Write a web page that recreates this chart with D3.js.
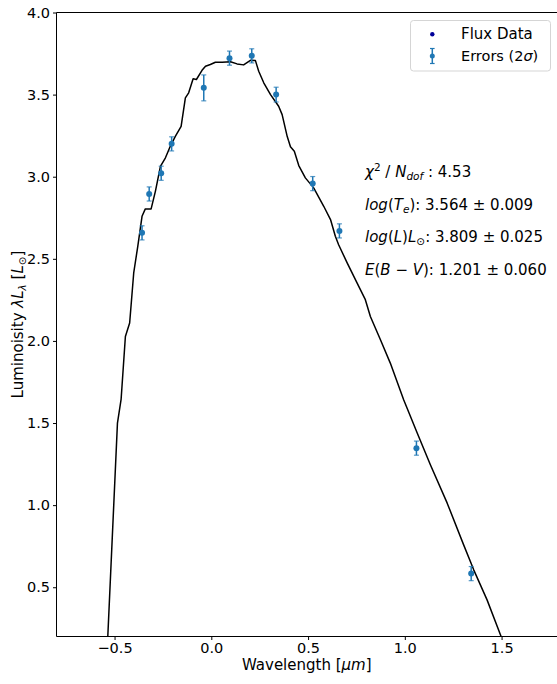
<!DOCTYPE html>
<html>
<head>
<meta charset="utf-8">
<script src="https://cdn.jsdelivr.net/npm/d3@7"></script>
<style>
  body { margin: 0; background: #fff; }
  svg { display: block; font-family: "DejaVu Sans", sans-serif; }
</style>
</head>
<body>
<div id="chart"></div>
<script>
// Observed photometry (log wavelength in micron, luminosity, 2-sigma error)
const fluxX = [-0.358, -0.321, -0.259, -0.205, -0.039, 0.094, 0.209, 0.335, 0.524, 0.662, 1.060, 1.343];
const fluxY = [2.658, 2.895, 3.021, 3.200, 3.541, 3.722, 3.736, 3.500, 2.958, 2.670, 1.347, 0.583];
const fluxErr = [0.043, 0.043, 0.043, 0.043, 0.079, 0.043, 0.043, 0.045, 0.043, 0.043, 0.043, 0.043];

// Model SED curve
const modelX = [-0.535, -0.485, -0.466, -0.444, -0.422, -0.401, -0.380, -0.358, -0.341, -0.311,
    -0.289, -0.263, -0.237, -0.212, -0.186, -0.156, -0.134, -0.117, -0.094, -0.077,
    -0.048, -0.030, -0.005, 0.021, 0.056, 0.099, 0.133, 0.167, 0.202, 0.228,
    0.245, 0.271, 0.306, 0.348, 0.366, 0.392, 0.409, 0.429, 0.452, 0.486,
    0.529, 0.581, 0.616, 0.641, 0.658, 0.702, 0.753, 0.796, 0.822, 0.874,
    0.925, 0.994, 1.064, 1.132, 1.219, 1.304, 1.356, 1.425, 1.498];
const modelY = [0.199, 1.500, 1.646, 2.027, 2.109, 2.414, 2.576, 2.759, 2.804, 2.804,
    2.911, 3.063, 3.115, 3.185, 3.246, 3.307, 3.480, 3.511, 3.596, 3.592,
    3.648, 3.673, 3.683, 3.697, 3.697, 3.700, 3.687, 3.681, 3.709, 3.707,
    3.642, 3.572, 3.500, 3.429, 3.378, 3.246, 3.182, 3.155, 3.068, 2.993,
    2.932, 2.820, 2.739, 2.637, 2.586, 2.475, 2.353, 2.251, 2.149, 2.007,
    1.865, 1.642, 1.439, 1.246, 1.012, 0.758, 0.606, 0.423, 0.199];

const xTicks = [-0.5, 0.0, 0.5, 1.0, 1.5];
const yTicks = [0.5, 1.0, 1.5, 2.0, 2.5, 3.0, 3.5, 4.0];

const W = 557, H = 684;
const plot = { left: 56.5, right: 557.5, top: 12.5, bottom: 636.5 };
const blue = '#1f77b4';
const fs = '15px';

const svg = d3.select('#chart').append('svg')
    .attr('width', W)
    .attr('height', H);

const x = d3.scaleLinear().domain([-0.8, 1.789]).range([plot.left, plot.right]);
const y = d3.scaleLinear().domain([0.2, 4.0]).range([plot.bottom, plot.top]);

svg.append('clipPath').attr('id', 'clip')
    .append('rect')
    .attr('x', plot.left).attr('y', plot.top)
    .attr('width', plot.right - plot.left).attr('height', plot.bottom - plot.top);

// Model curve
const line = d3.line()
    .x(d => x(d[0]))
    .y(d => y(d[1]));

svg.append('path')
    .datum(modelX.map((v, i) => [v, modelY[i]]))
    .attr('clip-path', 'url(#clip)')
    .attr('fill', 'none')
    .attr('stroke', '#000')
    .attr('stroke-width', 1.5)
    .attr('stroke-linejoin', 'round')
    .attr('d', line);

// Error bars + markers
const pts = fluxX.map((v, i) => ({ x: v, y: fluxY[i], e: fluxErr[i] }));
const eb = svg.append('g').selectAll('g').data(pts).enter().append('g');
eb.append('line')
    .attr('x1', d => x(d.x)).attr('x2', d => x(d.x))
    .attr('y1', d => y(d.y - d.e)).attr('y2', d => y(d.y + d.e))
    .attr('stroke', blue).attr('stroke-width', 1.5);
eb.selectAll('.cap').data(d => [[d.x, d.y - d.e], [d.x, d.y + d.e]]).enter().append('line')
    .attr('x1', d => x(d[0]) - 2.5).attr('x2', d => x(d[0]) + 2.5)
    .attr('y1', d => y(d[1])).attr('y2', d => y(d[1]))
    .attr('stroke', blue).attr('stroke-opacity', 0.75).attr('stroke-width', 1.2);
eb.append('circle')
    .attr('cx', d => x(d.x)).attr('cy', d => y(d.y))
    .attr('r', 3).attr('fill', blue);

// Axes
const xAxis = svg.append('g')
    .attr('transform', `translate(0,${plot.bottom})`)
    .call(d3.axisBottom(x).tickValues(xTicks).tickFormat(d3.format('.1f')).tickSize(3.5).tickPadding(3));
const yAxis = svg.append('g')
    .attr('transform', `translate(${plot.left},0)`)
    .call(d3.axisLeft(y).tickValues(yTicks).tickFormat(d3.format('.1f')).tickSize(3.5).tickPadding(3));

[xAxis, yAxis].forEach(a => {
    a.select('.domain').remove();
    a.selectAll('.tick line').attr('stroke', '#000');
    a.selectAll('.tick text')
        .attr('fill', '#000')
        .style('font-family', '"DejaVu Sans", sans-serif')
        .style('font-size', '14.5px');
});

// Spines
svg.append('path')
    .attr('d', `M${plot.left},${plot.top}H${plot.right}M${plot.left},${plot.top}V${plot.bottom}H${plot.right}`)
    .attr('fill', 'none')
    .attr('stroke', '#000')
    .attr('stroke-width', 1);

// Axis labels
svg.append('text')
    .attr('x', (plot.left + 557) / 2).attr('y', 670)
    .attr('text-anchor', 'middle')
    .style('font-size', fs)
    .html('Wavelength [<tspan font-style="italic">μm</tspan>]');

svg.append('text')
    .attr('transform', `translate(23,${(plot.top + plot.bottom) / 2}) rotate(-90)`)
    .attr('text-anchor', 'middle')
    .style('font-size', fs)
    .html('Luminoisity <tspan font-style="italic">λL</tspan><tspan font-style="italic" font-size="10.5px" dy="3">λ</tspan>' +
          '<tspan dy="-3"> [</tspan><tspan font-style="italic">L</tspan><tspan font-size="10.5px" dy="3">⊙</tspan><tspan dy="-3">]</tspan>');

// Fit annotations
const notes = [
    '<tspan font-style="italic">χ</tspan><tspan font-size="10.5px" dy="-6">2</tspan><tspan dy="6"> / </tspan>' +
    '<tspan font-style="italic">N</tspan><tspan font-style="italic" font-size="10.5px" dy="3">dof</tspan><tspan dy="-3"> : 4.53</tspan>',
    '<tspan font-style="italic">log</tspan>(<tspan font-style="italic">T</tspan><tspan font-style="italic" font-size="10.5px" dy="3">e</tspan>' +
    '<tspan dy="-3">): 3.564 ± 0.009</tspan>',
    '<tspan font-style="italic">log</tspan>(<tspan font-style="italic">L</tspan>)<tspan font-style="italic">L</tspan>' +
    '<tspan font-size="10.5px" dy="3">⊙</tspan><tspan dy="-3">: 3.809 ± 0.025</tspan>',
    '<tspan font-style="italic">E</tspan>(<tspan font-style="italic">B</tspan> − <tspan font-style="italic">V</tspan>): 1.201 ± 0.060'
];
svg.append('g').selectAll('text').data(notes).enter().append('text')
    .attr('x', 365)
    .attr('y', (d, i) => 177 + i * 32.7)
    .style('font-size', fs)
    .html(d => d);

// Legend
const lg = svg.append('g');
lg.append('rect')
    .attr('x', 410.5).attr('y', 20.5).attr('width', 140).attr('height', 50.5)
    .attr('rx', 3)
    .attr('fill', '#fff').attr('fill-opacity', 0.8)
    .attr('stroke', '#d5d5d5');
lg.append('circle').attr('cx', 432.3).attr('cy', 34.3).attr('r', 2.2).attr('fill', '#000099');
lg.append('line').attr('x1', 432.3).attr('x2', 432.3).attr('y1', 48.5).attr('y2', 63.5)
    .attr('stroke', blue).attr('stroke-width', 1.5);
[48.5, 63.5].forEach(cy => {
    lg.append('line').attr('x1', 430).attr('x2', 434.6).attr('y1', cy).attr('y2', cy)
        .attr('stroke', blue).attr('stroke-width', 1.2);
});
lg.append('circle').attr('cx', 432.3).attr('cy', 56).attr('r', 2.5).attr('fill', blue);
lg.append('text').attr('x', 461).attr('y', 39).style('font-size', fs).text('Flux Data');
lg.append('text').attr('x', 461).attr('y', 61).style('font-size', '14.5px')
    .html('Errors (2<tspan font-style="italic">σ</tspan>)');
</script>
</body>
</html>
